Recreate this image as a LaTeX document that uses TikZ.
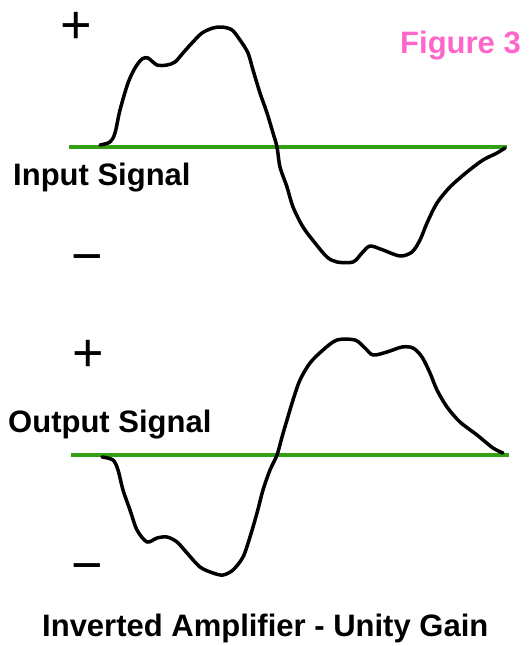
\documentclass[tikz,border=0pt]{standalone}
\usepackage{fontspec}
\setmainfont{Liberation Sans}
\definecolor{axisgreen}{RGB}{51,160,20}
\definecolor{figpink}{RGB}{255,102,204}
\begin{document}
\begin{tikzpicture}[x=1pt,y=-1pt,
  axisline/.style={axisgreen,line width=3.5pt},
  wave/.style={black,line width=3.5pt,line join=round,line cap=round},
  lbl/.style={inner sep=0pt,anchor=base west,font=\fontsize{31}{31}\selectfont\bfseries},
  sign/.style={inner sep=0pt,anchor=base,font=\fontsize{54}{54}\selectfont}]
\useasboundingbox (0,0) rectangle (529,646);
\fill[white] (0,0) rectangle (529,646);
% top panel
\coordinate (a1) at (69,147);
\coordinate (a2) at (507,147);
\draw[axisline] (a1) -- (a2);
\draw[wave] plot[smooth,tension=0.5] coordinates {
 (100,145) (110,142) (115,133) (120,110) (128,83) (135,68) (142,59) (148,58)
 (157,65) (167,65) (175,62) (183,53) (192,43) (202,33) (213,28) (222,27)
 (232,30) (240,40) (248,53) (253,70) (260,93) (267,113) (273,133) (277,147)
 (280,167) (287,187) (293,207) (303,227) (315,243) (327,257) (337,262) (353,262)
 (362,253) (370,246) (383,250) (400,256) (412,252) (420,240) (427,223) (437,203)
 (450,187) (467,172) (483,160) (497,153) (505,148)};
\node[sign] (p1) at (76,43) {+};
\node[sign] (m1) at (87,274) {−};
\node[lbl] (in) at (13,185) {Input Signal};
\node[lbl,text=figpink] (fig) at (400,53) {Figure 3};
% bottom panel
\coordinate (b1) at (71,455);
\coordinate (b2) at (509,455);
\draw[axisline] (b1) -- (b2);
\draw[wave] plot[smooth,tension=0.5] coordinates {
 (102,457) (113,460) (118,470) (123,490) (130,510) (137,530) (147,542) (157,538)
 (167,537) (177,542) (187,553) (200,567) (213,573) (223,575) (233,570) (243,557)
 (250,537) (257,513) (263,490) (270,470) (277,455) (282,437) (287,420) (293,400)
 (300,380) (310,363) (323,350) (337,340) (355,340) (365,348) (373,355) (387,352)
 (402,347) (413,348) (422,357) (430,373) (437,390) (447,407) (460,422) (477,435)
 (493,448) (503,453)};
\node[sign] (p2) at (88,371) {+};
\node[sign] (m2) at (87,583) {−};
\node[lbl] (out) at (8,432) {Output Signal};
\node[lbl] (cap) at (42,636) {Inverted Amplifier - Unity Gain};
\end{tikzpicture}
\end{document}
